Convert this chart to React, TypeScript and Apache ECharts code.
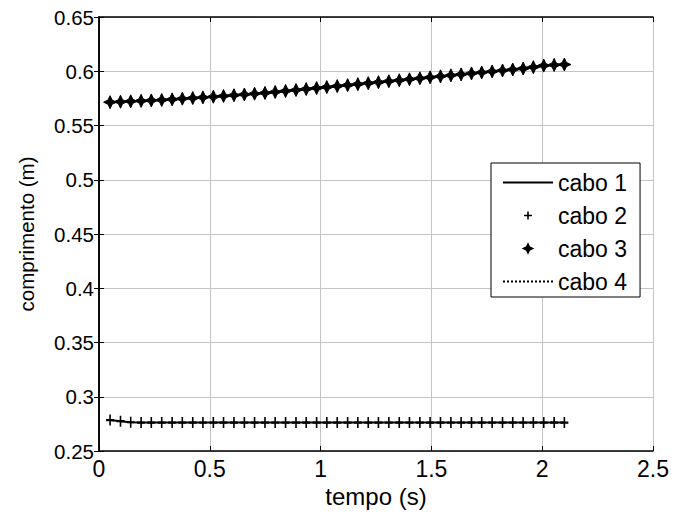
import React, { useEffect, useRef } from "react";
import * as echarts from "echarts";

const tempo = [
  0.05, 0.097, 0.143, 0.19, 0.236, 0.283, 0.33, 0.376, 0.423, 0.469,
  0.516, 0.562, 0.609, 0.656, 0.702, 0.749, 0.795, 0.842, 0.889, 0.935,
  0.982, 1.028, 1.075, 1.122, 1.168, 1.215, 1.261, 1.308, 1.355, 1.401,
  1.448, 1.494, 1.541, 1.588, 1.634, 1.681, 1.727, 1.774, 1.821, 1.867,
  1.914, 1.96, 2.007, 2.054, 2.1,
];

const cabo1 = [
  0.2785, 0.2775, 0.2765, 0.2762, 0.2762, 0.2762, 0.2762, 0.2762, 0.2762, 0.2762,
  0.2762, 0.2762, 0.2762, 0.2762, 0.2762, 0.2762, 0.2762, 0.2762, 0.2762, 0.2762,
  0.2762, 0.2762, 0.2762, 0.2762, 0.2762, 0.2762, 0.2762, 0.2762, 0.2762, 0.2762,
  0.2762, 0.2762, 0.2762, 0.2762, 0.2762, 0.2762, 0.2762, 0.2762, 0.2762, 0.2762,
  0.2762, 0.2762, 0.2762, 0.2762, 0.2762,
];
const cabo2 = cabo1.slice();

const cabo3 = [
  0.5715, 0.5719, 0.5723, 0.5727, 0.5731, 0.5735, 0.5741, 0.5747, 0.5753, 0.5759,
  0.5765, 0.5772, 0.5779, 0.5786, 0.5793, 0.58, 0.5809, 0.5818, 0.5827, 0.5836,
  0.5845, 0.5854, 0.5863, 0.5872, 0.5881, 0.589, 0.5899, 0.5908, 0.5917, 0.5926,
  0.5935, 0.5944, 0.5953, 0.5962, 0.5971, 0.598, 0.5989, 0.5998, 0.6007, 0.6016,
  0.6025, 0.6038, 0.6052, 0.6058, 0.6062,
];
const cabo4 = cabo3.slice();

const seriesNames = ["cabo 1", "cabo 2", "cabo 3", "cabo 4"];

const plusPath =
  "path://M4,0 L6,0 L6,4 L10,4 L10,6 L6,6 L6,10 L4,10 L4,6 L0,6 L0,4 L4,4 Z";
const starPath =
  "path://M5,0 L6.6,3.4 L10,5 L6.6,6.6 L5,10 L3.4,6.6 L0,5 L3.4,3.4 Z";

const FONT = "'Liberation Sans', Arial, sans-serif";

export default function App() {
  const ref = useRef<HTMLDivElement>(null);
  useEffect(() => {
    if (!ref.current) return;
    const chart = echarts.init(ref.current, undefined, { renderer: "svg" });
    const pair = (ys: number[]) => tempo.map((t, i) => [t, ys[i]]);
    const axisCommon = {
      axisLine: { show: true, lineStyle: { color: "#000", width: 1.5 } },
      axisTick: { show: true, inside: true, length: 5, lineStyle: { color: "#000" } },
    };
    const legendData = seriesNames.map((n, i) =>
      i === 0 || i === 3 ? { name: n, itemStyle: { opacity: 0 } } : { name: n }
    );
    chart.setOption({
      animation: false,
      backgroundColor: "#fff",
      textStyle: { fontFamily: FONT },
      grid: { left: 99, right: 22, top: 17, bottom: 64 },
      legend: {
        orient: "vertical",
        left: 491,
        top: 163,
        padding: [8, 13, 4, 11],
        itemWidth: 50,
        itemHeight: 10,
        itemGap: 10,
        itemTextGap: 6,
        borderColor: "#000",
        borderWidth: 1,
        backgroundColor: "#fff",
        textStyle: { fontFamily: FONT, fontSize: 23, lineHeight: 23, color: "#000" },
        data: legendData,
      },
      xAxis: [
        {
          type: "value",
          min: 0,
          max: 2.5,
          interval: 0.5,
          name: "tempo (s)",
          nameLocation: "middle",
          nameGap: 30,
          nameTextStyle: { fontFamily: FONT, fontSize: 24, color: "#000" },
          axisLabel: { fontFamily: FONT, fontSize: 23, color: "#000", margin: 6 },
          splitLine: { show: true, lineStyle: { color: "#c4c4c4", width: 1 } },
          ...axisCommon,
        },
        {
          type: "value",
          position: "top",
          min: 0,
          max: 2.5,
          interval: 0.5,
          axisLabel: { show: false },
          splitLine: { show: false },
          ...axisCommon,
        },
      ],
      yAxis: [
        {
          type: "value",
          min: 0.25,
          max: 0.65,
          interval: 0.05,
          name: "comprimento (m)",
          nameLocation: "middle",
          nameGap: 62,
          nameTextStyle: { fontFamily: FONT, fontSize: 20.5, color: "#000" },
          axisLabel: {
            fontFamily: FONT,
            fontSize: 20.5,
            color: "#000",
            margin: 5,
            formatter: (v: number) => String(parseFloat(v.toFixed(2))),
          },
          splitLine: { show: true, lineStyle: { color: "#c4c4c4", width: 1 } },
          ...axisCommon,
        },
        {
          type: "value",
          position: "right",
          min: 0.25,
          max: 0.65,
          interval: 0.05,
          axisLabel: { show: false },
          splitLine: { show: false },
          ...axisCommon,
        },
      ],
      series: [
        {
          name: "cabo 1",
          type: "line",
          data: pair(cabo1),
          symbol: "none",
          lineStyle: { color: "#000", width: 2 },
          itemStyle: { color: "#000" },
          z: 3,
        },
        {
          name: "cabo 2",
          type: "line",
          data: pair(cabo2),
          symbol: plusPath,
          symbolSize: [8, 11],
          lineStyle: { width: 0, opacity: 0 },
          itemStyle: { color: "#000" },
          z: 4,
        },
        {
          name: "cabo 3",
          type: "line",
          data: pair(cabo3),
          symbol: starPath,
          symbolSize: [13, 13],
          lineStyle: { width: 0, opacity: 0 },
          itemStyle: { color: "#000", borderColor: "#000", borderWidth: 1 },
          z: 4,
        },
        {
          name: "cabo 4",
          type: "line",
          data: pair(cabo4),
          symbol: "none",
          lineStyle: { color: "#000", width: 1.5, type: "dotted" },
          itemStyle: { color: "#000" },
          z: 3,
        },
      ],
    });
    return () => chart.dispose();
  }, []);
  return (
    <div
      ref={ref}
      style={{ position: "fixed", left: 0, top: 0, width: 675, height: 515 }}
    />
  );
}
